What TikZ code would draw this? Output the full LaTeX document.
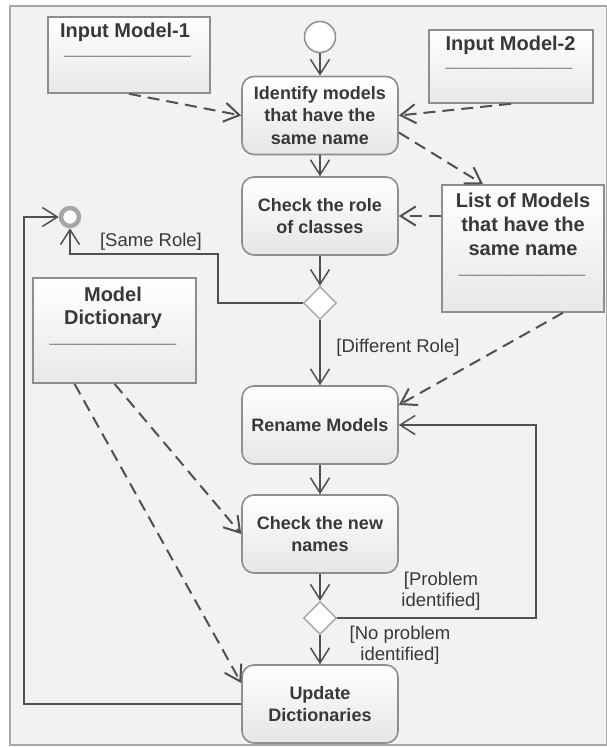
\documentclass[tikz,border=0pt]{standalone}
\usepackage{fontspec}
\setmainfont{Liberation Sans}
\usetikzlibrary{arrows.meta,shapes.geometric,calc}

\definecolor{pagebg}{HTML}{F2F2F2}
\definecolor{framec}{HTML}{A8A8A8}
\definecolor{edgec}{HTML}{8E8E8E}
\definecolor{linec}{HTML}{505050}
\definecolor{textc}{HTML}{383838}

\tikzset{
  action/.style={rounded corners=12pt, draw=edgec, line width=1.6pt,
    top color=white, bottom color=black!10,
    minimum width=156pt, minimum height=78pt, inner sep=0pt,
    align=center, text=textc, font=\fontsize{18}{22.5}\selectfont\bfseries},
  objbox/.style={draw=edgec, line width=1.6pt, top color=white,
    bottom color=black!9, inner sep=0pt},
  objtitle/.style={text=textc, font=\fontsize{20}{24}\selectfont\bfseries,
    align=center, inner sep=0pt},
  sepline/.style={text=black!72, font=\fontsize{11}{11}\selectfont, inner sep=0pt},
  guard/.style={text=textc, font=\fontsize{18.5}{21.5}\selectfont,
    align=center, inner sep=0pt},
  decision/.style={diamond, aspect=1, draw=black!35, line width=1.4pt,
    fill=white, minimum width=33pt, minimum height=33pt, inner sep=0pt},
  flow/.style={draw=linec, line width=1.5pt,
    -{Straight Barb[length=15pt,width=19pt]}},
  dep/.style={flow, line width=2pt, dash pattern=on 12pt off 7pt},
}

\begin{document}
\begin{tikzpicture}[x=1pt,y=-1pt]
\useasboundingbox (0,0) rectangle (606,747);

% diagram frame
\draw[draw=framec, line width=2pt, fill=pagebg] (10,6) rectangle (607,745);

% start and end markers
\node[circle, draw=edgec, line width=1.5pt, fill=white, minimum size=31pt, inner sep=0pt] (init) at (320,37) {};
\node[circle, draw=black!35, line width=4.5pt, fill=white, minimum size=18pt, inner sep=0pt] (fin) at (70,217) {};

% actions
\node[action] (idf)  at (320,115.5) {Identify models\\that have the\\same name};
\node[action] (chk)  at (320,216)   {Check the role\\of classes};
\node[action] (ren)  at (320,425)   {Rename Models};
\node[action] (chk2) at (320,534)   {Check the new\\names};
\node[action] (upd)  at (320,704)   {Update\\Dictionaries};

% decisions
\node[decision] (d1) at (320,303) {};
\node[decision] (d2) at (320,618) {};

% object boxes
\node[objbox, minimum width=162pt, minimum height=76pt]  (in1)  at (129,55)    {};
\node[objtitle] (in1t) at (125,32) {Input Model-1};
\node[sepline]  (in1s) at (127.5,58) {-----------------------------------};

\node[objbox, minimum width=164pt, minimum height=73pt]  (in2)  at (511,66.5)  {};
\node[objtitle] (in2t) at (510.5,45) {Input Model-2};
\node[sepline]  (in2s) at (509,70) {-----------------------------------};

\node[objbox, minimum width=162pt, minimum height=127pt] (list) at (523,248.5) {};
\node[objtitle] (listt) at (523,224) {List of Models\\that have the\\same name};
\node[sepline]  (lists) at (522,277) {-----------------------------------};

\node[objbox, minimum width=163pt, minimum height=105pt] (md)   at (114.5,330.5) {};
\node[objtitle, font=\fontsize{20}{23.5}\selectfont\bfseries] (mdt) at (113,308) {Model\\Dictionary};
\node[sepline]  (mds) at (113,346) {-----------------------------------};

% control flow
\draw[flow] (init) -- (idf);
\draw[flow] (idf) -- (chk);
\draw[flow] (chk) -- (d1);
\draw[flow] (d1) -- (ren);
\draw[flow] (ren) -- (chk2);
\draw[flow] (chk2) -- (d2);
\draw[flow] (d2) -- (upd);

\coordinate (srk) at (218,254);
\draw[flow] (d1.west) -| (srk) -| (fin.south);

\coordinate (plp) at (536,500);
\draw[flow] (d2.east) -| (plp) |- (ren.east);

\coordinate (ulp) at (24,400);
\draw[flow] (upd.west) -| (ulp) |- (fin.west);

% guards
\node[guard] (gsr) at (151,242) {[Same Role]};
\node[guard] (gdr) at (398,348) {[Different Role]};
\node[guard] (gpi) at (441,591) {[Problem\\identified]};
\node[guard] (gnp) at (400,645) {[No problem\\identified]};

% object flow
\draw[dep] (in1.south) -- (idf.west);
\draw[dep] (in2.south) -- (idf.east);
\draw[dep] ([yshift=-17pt]idf.east) -- ([xshift=-40pt]list.north);
\draw[dep] (list.west |- chk.east) -- (chk.east);
\draw[dep] ([xshift=40pt]list.south) -- ([yshift=20pt]ren.east);
\draw[dep] (md.south) -- (chk2.west);
\draw[dep] ([xshift=-40pt]md.south) -- ([yshift=21pt]upd.west);
\end{tikzpicture}
\end{document}
